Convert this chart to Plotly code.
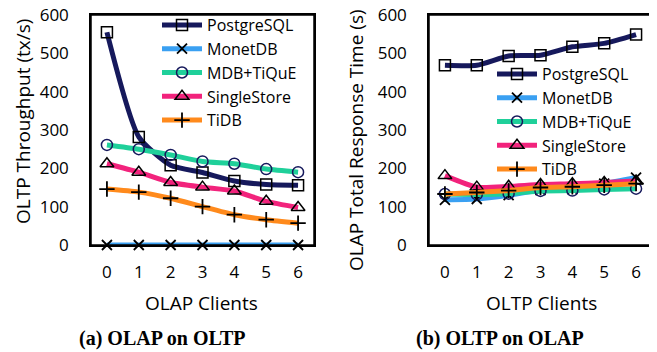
import plotly.graph_objects as go

clients = [0, 1, 2, 3, 4, 5, 6]
series = ["PostgreSQL", "MonetDB", "MDB+TiQuE", "SingleStore", "TiDB"]

# (a) OLAP on OLTP: OLTP throughput (tx/s) vs OLAP clients
oltp_tput = {
    "PostgreSQL": [555, 282, 208, 189, 167, 158, 156],
    "MonetDB": [0, 0, 0, 0, 0, 0, 0],
    "MDB+TiQuE": [261, 250, 235, 218, 212, 198, 190],
    "SingleStore": [212, 190, 163, 151, 141, 114, 98],
    "TiDB": [146, 138, 122, 100, 79, 66, 57],
}
# (b) OLTP on OLAP: OLAP total response time (s) vs OLTP clients
olap_rt = {
    "PostgreSQL": [469, 469, 493, 495, 517, 526, 549],
    "MonetDB": [118, 120, 130, 143, 146, 160, 176],
    "MDB+TiQuE": [133, 132, 134, 141, 142, 145, 147],
    "SingleStore": [181, 151, 153, 158, 160, 163, 167],
    "TiDB": [133, 137, 142, 150, 152, 156, 160],
}
yticks = [0, 100, 200, 300, 400, 500, 600]

colors = {
    "PostgreSQL": "#16195c",
    "MonetDB": "#3aa0f2",
    "MDB+TiQuE": "#1fd09a",
    "SingleStore": "#f2237c",
    "TiDB": "#ff8a1c",
}
markers = {
    "PostgreSQL": dict(symbol="square-open", size=11, color="black", line=dict(width=1.5, color="black")),
    "MonetDB": dict(symbol="x-thin-open", size=10, color="black", line=dict(width=1.8, color="black")),
    "MDB+TiQuE": dict(symbol="circle-open", size=11, color="#16195c", line=dict(width=1.5, color="#16195c")),
    "SingleStore": dict(symbol="triangle-up-open", size=12, color="black", line=dict(width=1.5, color="black")),
    "TiDB": dict(symbol="cross-thin-open", size=11, color="black", line=dict(width=1.8, color="black")),
}

# The page body has an 8px margin, so the figure is laid out in a 649x344 box
W, H = 649, 344
OFF = 8


def px(x):
    return (x - OFF) / W


def py(y):
    return 1 - (y - OFF) / H


FONT = "Open Sans"
fig = go.Figure()
for s in series:
    fig.add_trace(go.Scatter(
        x=clients, y=oltp_tput[s], name=s, mode="lines+markers",
        line=dict(color=colors[s], width=5, shape="spline", smoothing=0.6),
        marker=markers[s], xaxis="x", yaxis="y", legend="legend", cliponaxis=False))
for s in series:
    fig.add_trace(go.Scatter(
        x=clients, y=olap_rt[s], name=s, mode="lines+markers",
        line=dict(color=colors[s], width=5, shape="spline", smoothing=0.6),
        marker=markers[s], xaxis="x2", yaxis="y2", legend="legend2", cliponaxis=False))

ax_common = dict(showline=True, mirror=True, linecolor="black", linewidth=1.5,
                 showgrid=False, zeroline=False, ticks="", automargin=False,
                 ticklabeloverflow="allow",
                 tickfont=dict(family=FONT, size=17, color="black"))
ydom = [py(245), py(15)]
fig.update_layout(
    template="none",
    width=W, height=H,
    margin=dict(l=0, r=0, t=0, b=0, autoexpand=False),
    paper_bgcolor="white", plot_bgcolor="white",
    font=dict(family=FONT, size=16, color="black"),
    xaxis=dict(domain=[px(91), px(314)], range=[-0.5, 6.5], tickvals=clients,
               ticklabelstandoff=11, anchor="y", **ax_common),
    yaxis=dict(domain=ydom, range=[0, 600], tickvals=yticks,
               ticklabelstandoff=17, anchor="x", **ax_common),
    xaxis2=dict(domain=[px(429), px(652)], range=[-0.5, 6.5], tickvals=clients,
                ticklabelstandoff=11, anchor="y2", **ax_common),
    yaxis2=dict(domain=ydom, range=[0, 600], tickvals=yticks,
                ticklabelstandoff=17, anchor="x2", **ax_common),
    legend=dict(x=px(157), y=py(8), xanchor="left", yanchor="top",
                bgcolor="rgba(0,0,0,0)", font=dict(family=FONT, size=16),
                itemwidth=40, tracegroupgap=0),
    legend2=dict(x=px(492), y=py(57), xanchor="left", yanchor="top",
                 bgcolor="rgba(0,0,0,0)", font=dict(family=FONT, size=16),
                 itemwidth=40, tracegroupgap=0),
    shapes=[
        dict(type="rect", xref="x domain", yref="y domain", x0=0, x1=1, y0=0, y1=1,
             line=dict(color="black", width=1.5), layer="above"),
        dict(type="rect", xref="x2 domain", yref="y2 domain", x0=0, x1=1, y0=0, y1=1,
             line=dict(color="black", width=1.5), layer="above"),
    ],
)
ann = dict(xref="paper", yref="paper", showarrow=False, xanchor="center", yanchor="middle")
fig.add_annotation(text="OLAP Clients", x=px(201), y=py(303), font=dict(family=FONT, size=19), **ann)
fig.add_annotation(text="OLTP Clients", x=px(541), y=py(303), font=dict(family=FONT, size=19), **ann)
fig.add_annotation(text="OLTP Throughput (tx/s)", x=px(23), y=py(122), textangle=-90,
                   font=dict(family=FONT, size=19), **ann)
fig.add_annotation(text="OLAP Total Response Time (s)", x=px(356), y=py(140), textangle=-90,
                   font=dict(family=FONT, size=19), **ann)
fig.add_annotation(text="<b>(a) OLAP on OLTP</b>", x=px(162), y=py(338),
                   font=dict(family="Liberation Serif", size=20), **ann)
fig.add_annotation(text="<b>(b) OLTP on OLAP</b>", x=px(500), y=py(338),
                   font=dict(family="Liberation Serif", size=20), **ann)
fig.write_html("out.html")
